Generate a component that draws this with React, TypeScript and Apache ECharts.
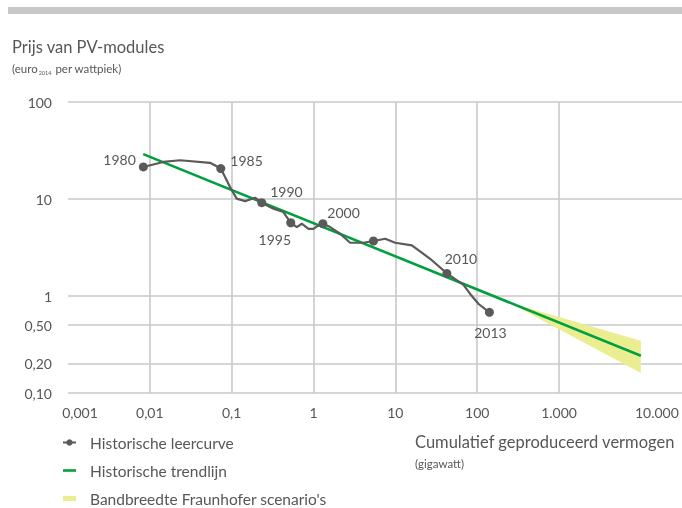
import React, { useEffect, useRef } from 'react';
import * as echarts from 'echarts';

// Historische leercurve (cumulatief vermogen in GW, prijs in euro2014/Wp)
const curveX = [0.00833, 0.0146, 0.0234, 0.0545, 0.0736, 0.0955, 0.115, 0.146, 0.193, 0.233, 0.324, 0.428, 0.472, 0.527, 0.625, 0.719, 0.867, 1.0, 1.148, 1.3, 1.6, 2.11, 2.8, 4.07, 5.4, 7.5, 9.95, 15.9, 26.6, 42.6, 68.0, 82.1, 104, 141];
const curveY = [21.4, 24.1, 25.1, 23.6, 20.6, 13.3, 10.1, 9.5, 10.3, 9.17, 7.95, 7.33, 6.51, 5.69, 5.13, 5.56, 4.93, 4.93, 5.34, 5.56, 5.13, 4.38, 3.54, 3.54, 3.69, 3.89, 3.54, 3.32, 2.42, 1.71, 1.3, 1.05, 0.827, 0.678];
const markerIndex = [0, 4, 9, 13, 19, 24, 29, 33];
const markerYears = ['1980', '1985', '1990', '1995', '2000', '', '2010', '2013'];

// Historische trendlijn
const trendX = [0.0083, 10000];
const trendY = [29.0, 0.242];

// Bandbreedte Fraunhofer scenario's
const bandX = [240, 10000];
const bandLow = [0.86, 0.161];
const bandHigh = [0.86, 0.345];

// Axes
const xTickValues = [0.001, 0.01, 0.1, 1, 10, 100, 1000, 10000];
const xTickLabels = ['0,001', '0,01', '0,1', '1', '10', '100', '1.000', '10.000'];
const xGridValues = [0.01, 0.1, 1, 10, 100, 1000];
const yTickValues = [0.1, 0.2, 0.5, 1, 10, 100];
const yTickLabels = ['0,10', '0,20', '0,50', '1', '10', '100'];

const seriesNames = ['Historische leercurve', 'Historische trendlijn', "Bandbreedte Fraunhofer scenario's"];

const FONT = 'Lato, "Noto Sans", sans-serif';
const TEXT = '#575757';
const GRID = '#c9c9c9';
const CURVE = '#5a5a5a';
const GREEN = '#00a03e';
const YELLOW = '#ebee90';

const labelPlace: Record<string, any> = {
  '1980': { position: 'left', distance: 3, offset: [0, -7] },
  '1985': { position: 'right', distance: 5, offset: [0, -8] },
  '1990': { position: 'right', distance: 4, offset: [0, -11] },
  '1995': { position: 'bottom', distance: 5, offset: [-16, 0] },
  '2000': { position: 'right', distance: 0, offset: [0, -11] },
  '2010': { position: 'top', distance: 3, offset: [14, 0] },
  '2013': { position: 'bottom', distance: 9, offset: [1, 0] },
};

const findIdx = (arr: number[], v: number) => arr.findIndex((t) => Math.abs(t - v) / t < 1e-6);

export default function App() {
  const ref = useRef<HTMLDivElement>(null);
  useEffect(() => {
    if (!ref.current) return;
    const chart = echarts.init(ref.current, null, { renderer: 'svg' });

    const curveData = curveX.map((x, i) => {
      const k = markerIndex.indexOf(i);
      if (k < 0) return { value: [x, curveY[i]], symbol: 'none' };
      const yr = markerYears[k];
      return {
        value: [x, curveY[i]],
        symbol: 'circle',
        label: yr
          ? { show: true, formatter: yr, fontFamily: FONT, fontSize: 14, color: TEXT, ...labelPlace[yr] }
          : { show: false },
      };
    });

    const option: any = {
      animation: false,
      title: [
        {
          text: 'Prijs van PV-modules',
          left: 12,
          top: 37,
          padding: 0,
          textStyle: { fontFamily: FONT, fontSize: 16.5, fontWeight: 'normal', color: TEXT, lineHeight: 19 },
        },
        {
          text: '{a|(euro}{s|2014}{a| per wattpiek)}',
          left: 12,
          top: 61,
          padding: 0,
          textStyle: {
            fontWeight: 'normal',
            rich: {
              a: { fontFamily: FONT, fontSize: 11.5, fontWeight: 'normal', color: TEXT, lineHeight: 15 },
              s: { fontFamily: FONT, fontSize: 5.5, fontWeight: 'normal', color: TEXT, lineHeight: 15, verticalAlign: 'bottom', padding: [6, 1, 0, 1] },
            },
          },
        },
        {
          text: 'Cumulatief geproduceerd vermogen',
          left: 415,
          top: 432,
          padding: 0,
          textStyle: { fontFamily: FONT, fontSize: 16.5, fontWeight: 'normal', color: TEXT, lineHeight: 19 },
        },
        {
          text: '(gigawatt)',
          left: 415,
          top: 456,
          padding: 0,
          textStyle: { fontFamily: FONT, fontSize: 11.5, fontWeight: 'normal', color: TEXT, lineHeight: 14 },
        },
      ],
      graphic: [
        { type: 'rect', shape: { x: 8, y: 7, width: 674, height: 7 }, style: { fill: '#c8c8c8' }, silent: true },
      ],
      legend: {
        orient: 'vertical',
        left: 62,
        top: 433,
        padding: 0,
        itemGap: 9,
        itemWidth: 13,
        itemHeight: 8,
        symbolKeepAspect: true,
        selectedMode: false,
        textStyle: { fontFamily: FONT, fontSize: 15.5, color: TEXT, lineHeight: 19, padding: [0, 0, 0, 9] },
        data: [
          { name: seriesNames[0] },
          { name: seriesNames[1], icon: 'path://M0,0L13,0L13,2.6L0,2.6Z' },
          { name: seriesNames[2], icon: 'path://M0,0L13,0L13,5L0,5Z' },
        ],
      },
      grid: { left: 68, right: 0, top: 102, bottom: 115, containLabel: false },
      xAxis: {
        type: 'log',
        logBase: 10,
        min: 0.001,
        max: 31800,
        axisLine: { show: false },
        axisTick: { show: false, customValues: xGridValues },
        axisLabel: {
          customValues: xTickValues,
          margin: 12,
          fontFamily: FONT,
          fontSize: 14,
          color: TEXT,
          formatter: (v: number) => {
            const i = findIdx(xTickValues, v);
            const s = i >= 0 ? xTickLabels[i] : '';
            if (i === 0) return '{l|' + s + '}';
            if (i === xTickValues.length - 1) return '{r|' + s + '}';
            return s;
          },
          rich: {
            l: { fontFamily: FONT, fontSize: 14, color: TEXT, padding: [0, 0, 0, 24] },
            r: { fontFamily: FONT, fontSize: 14, color: TEXT, padding: [0, 0, 0, 32] },
          },
        },
        splitLine: { show: true, lineStyle: { color: GRID, width: 1.6 } },
      },
      yAxis: {
        type: 'log',
        logBase: 10,
        min: 0.1,
        max: 100,
        axisLine: { show: false },
        axisTick: { show: false, customValues: yTickValues },
        axisLabel: {
          customValues: yTickValues,
          margin: 16,
          fontFamily: FONT,
          fontSize: 14,
          color: TEXT,
          formatter: (v: number) => {
            const i = findIdx(yTickValues, v);
            return i >= 0 ? yTickLabels[i] : '';
          },
        },
        splitLine: { show: true, lineStyle: { color: GRID, width: 1.6 } },
      },
      series: [
        {
          type: 'custom',
          name: seriesNames[2],
          silent: true,
          z: 1,
          itemStyle: { color: YELLOW },
          data: bandX.map((x, i) => [x, bandLow[i], bandHigh[i]]),
          encode: { x: 0, y: [1, 2] },
          renderItem: (params: any, api: any) => {
            if (params.dataIndex !== 0) return null;
            const up = bandX.map((x, i) => api.coord([x, bandHigh[i]]));
            const lo = bandX.map((x, i) => api.coord([x, bandLow[i]])).reverse();
            return { type: 'polygon', shape: { points: [...up, ...lo] }, style: { fill: YELLOW } };
          },
        },
        {
          type: 'line',
          name: seriesNames[1],
          z: 3,
          symbol: 'none',
          showSymbol: false,
          lineStyle: { color: GREEN, width: 2.6 },
          itemStyle: { color: GREEN },
          data: trendX.map((x, i) => [x, trendY[i]]),
        },
        {
          type: 'line',
          name: seriesNames[0],
          z: 4,
          symbol: 'circle',
          symbolSize: 9,
          showSymbol: true,
          showAllSymbol: true,
          lineStyle: { color: CURVE, width: 2.2 },
          itemStyle: { color: CURVE },
          data: curveData,
        },
      ],
    };
    chart.setOption(option);
    return () => chart.dispose();
  }, []);
  return <div ref={ref} style={{ position: 'fixed', left: 0, top: 0, width: 682, height: 508 }} />;
}
